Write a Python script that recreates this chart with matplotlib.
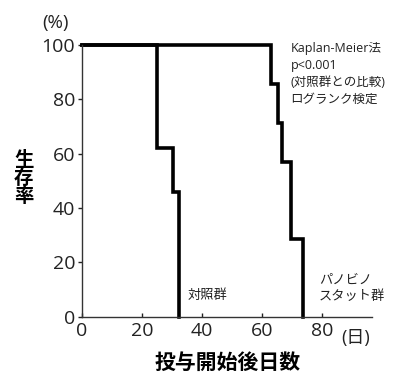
import matplotlib
matplotlib.use('Agg')
from matplotlib import pyplot as plt

plt.rcParams['font.family'] = ['Noto Sans CJK JP', 'DejaVu Sans']

# Kaplan-Meier steps (days, survival %)
control_days = [0, 25, 30.5, 32.3]
control_surv = [100, 62, 46, 0]
pano_days = [0, 63, 65.2, 66.8, 69.6, 73.8]
pano_surv = [100, 85.7, 71.4, 57.1, 28.6, 0]

x_ticks = [0, 20, 40, 60, 80]
y_ticks = [0, 20, 40, 60, 80, 100]

latin = ['Open Sans', 'Noto Sans CJK JP']

fig = plt.figure(figsize=(3.97, 3.76), dpi=100)
ax = fig.add_axes([0.2065, 0.1577, 0.7305, 0.7223])

ax.step(control_days, control_surv, where='post',
        color='black', lw=2.6, clip_on=False, solid_joinstyle='miter')
ax.step(pano_days, pano_surv, where='post',
        color='black', lw=2.6, clip_on=False, solid_joinstyle='miter')

ax.set_xlim(0, 96.7)
ax.set_ylim(0, 100)
ax.set_xticks(x_ticks)
ax.set_yticks(y_ticks)
ax.tick_params(axis='both', labelsize=14, length=3, width=1, colors='#222222', pad=2)
ax.tick_params(axis='x', direction='in', pad=4)
for lab in ax.get_xticklabels() + ax.get_yticklabels():
    lab.set_family(latin)
for s in ['top', 'right']:
    ax.spines[s].set_visible(False)
for s in ['left', 'bottom']:
    ax.spines[s].set_linewidth(1)
    ax.spines[s].set_color('#333333')

fig.text(0.141, 0.94, '(%)', fontsize=13.5, ha='center', va='center',
         color='#222222', family=latin)
fig.text(0.895, 0.101, '(日)', fontsize=13, ha='center', va='center',
         color='#222222', family=latin)
fig.text(0.06, 0.525, '生\n存\n率', fontsize=14, fontweight='bold', ha='center',
         va='center', linespacing=0.95)
fig.text(0.573, 0.037, '投与開始後日数', fontsize=15, fontweight='bold',
         ha='center', va='center')

fig.text(0.732, 0.888, 'Kaplan-Meier法\np<0.001\n(対照群との比較)\nログランク検定',
         fontsize=9, ha='left', va='top', linespacing=1.4, color='#222222',
         family=latin)
fig.text(0.473, 0.215, '対照群', fontsize=9.5, ha='left', va='center', color='#222222')
fig.text(0.803, 0.233, 'パノビノ\nスタット群', fontsize=9.5, ha='left', va='center',
         linespacing=1.3, color='#222222')

fig.savefig('out.png', dpi=100)
